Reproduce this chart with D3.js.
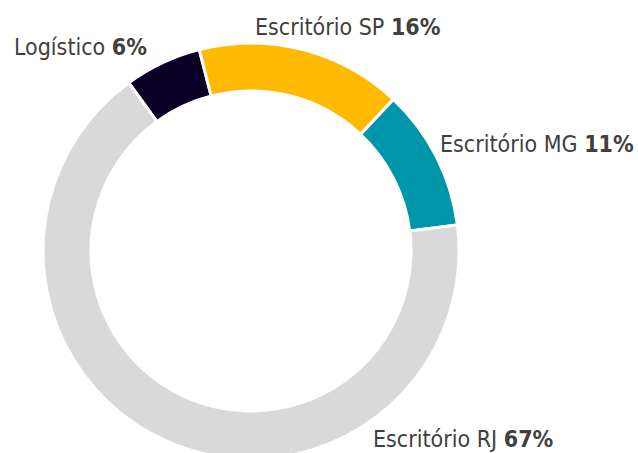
<!DOCTYPE html>
<html>
<head>
<meta charset="utf-8">
<script src="https://cdn.jsdelivr.net/npm/d3@7"></script>
<style>
  body { margin: 0; background: #fff; }
  svg text { font-family: "DejaVu Sans Condensed", "DejaVu Sans", sans-serif; fill: #404040; }
</style>
</head>
<body>
<div id="plot"></div>
<script>
var labels = ['Logístico', 'Escritório SP', 'Escritório MG', 'Escritório RJ'];
var values = [6, 16, 11, 67];
var colors = ['#0b0126', '#ffb900', '#0096a9', '#d9d9d9'];

// where each label sits (layout only)
var labelLayout = [
  { x: 147, y: 55, anchor: 'end' },
  { x: 255, y: 35, anchor: 'start' },
  { x: 440, y: 152, anchor: 'start' },
  { x: 373, y: 447, anchor: 'start' }
];

var width = 638, height = 453;
var cx = 251, cy = 251;
var outerR = 208, innerR = 160;
var startDeg = -36;

var data = labels.map(function(d, i) {
  return { label: d, value: values[i], color: colors[i] };
});

var svg = d3.select("#plot")
  .append("svg")
  .attr("width", width)
  .attr("height", height);

var g = svg.append("g")
  .attr("transform", `translate(${cx}, ${cy})`);

var pie = d3.pie()
  .sort(null)
  .value(function(d) { return d.value; })
  .startAngle(startDeg * Math.PI / 180)
  .endAngle(startDeg * Math.PI / 180 + 2 * Math.PI);

var arc = d3.arc()
  .innerRadius(innerR)
  .outerRadius(outerR);

g.selectAll("path.slice")
  .data(pie(data))
  .enter()
  .append("path")
  .attr("class", "slice")
  .attr("d", arc)
  .style("fill", function(d) { return d.data.color; })
  .style("stroke", "#fff")
  .style("stroke-width", 3);

var txt = svg.selectAll("text.lbl")
  .data(data)
  .enter()
  .append("text")
  .attr("class", "lbl")
  .attr("x", function(d, i) { return labelLayout[i].x; })
  .attr("y", function(d, i) { return labelLayout[i].y; })
  .attr("text-anchor", function(d, i) { return labelLayout[i].anchor; })
  .style("font-size", "23px");

txt.append("tspan").text(function(d) { return d.label + " "; });
txt.append("tspan")
  .style("font-weight", "bold")
  .text(function(d) { return d.value + "%"; });
</script>
</body>
</html>
